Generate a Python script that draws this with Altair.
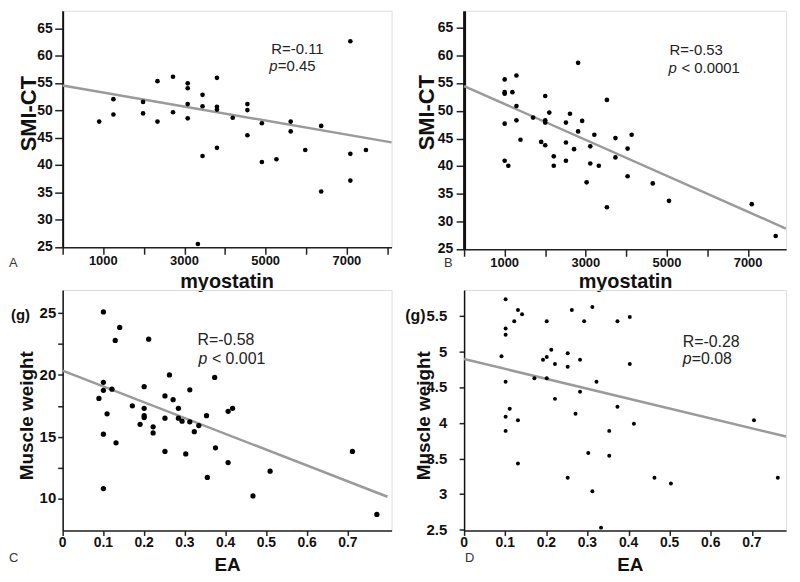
import altair as alt
import pandas as pd

FONT = "Liberation Sans"

# ---------------- data ----------------
A_x = [900, 1250, 1250, 1980, 1980, 2335, 2335, 2718, 2718, 3080, 3080, 3080, 3080,
       3445, 3445, 3445, 3330, 3800, 3800, 3800, 3800, 4188, 4550, 4550, 4550, 4906,
       4906, 5265, 5616, 5616, 5975, 6367, 6367, 7085, 7085, 7085, 7469]
A_y = [48.0, 52.1, 49.3, 51.6, 49.5, 55.4, 48.0, 56.2, 49.7, 55.0, 54.1, 51.2, 48.6,
       52.9, 50.8, 41.7, 25.6, 56.0, 50.7, 50.2, 43.2, 48.7, 51.2, 50.1, 45.5, 47.7,
       40.6, 41.1, 48.0, 46.2, 42.8, 47.2, 35.2, 62.7, 42.1, 37.2, 42.8]
A_line_x = [0, 8100]
A_line_y = [54.6, 44.2]

B_x = [1000, 1000, 1000, 1000, 1000, 1090, 1190, 1290, 1290, 1290, 1390, 1700, 1900,
       2000, 2000, 2000, 2000, 2100, 2210, 2210, 2510, 2510, 2510, 2610, 2710, 2810,
       2810, 2910, 3020, 3110, 3110, 3210, 3320, 3520, 3520, 3730, 3730, 4030, 4030,
       4130, 4650, 5050, 7090, 7680]
B_y = [55.7, 53.4, 53.1, 47.7, 41.0, 40.1, 53.4, 56.4, 50.9, 48.3, 44.8, 48.8, 44.4,
       43.8, 52.7, 48.3, 47.9, 49.7, 41.8, 40.1, 47.9, 44.3, 41.0, 49.5, 43.1, 58.7,
       46.3, 48.2, 37.1, 43.6, 40.5, 45.7, 40.1, 52.0, 32.6, 45.1, 41.6, 43.2, 38.2,
       45.7, 36.9, 33.75, 33.15, 27.4]
B_line_x = [0, 7930]
B_line_y = [54.5, 28.75]

C_x = [0.100, 0.140, 0.129, 0.211, 0.262, 0.100, 0.100, 0.121, 0.089, 0.200, 0.251,
       0.271, 0.312, 0.373, 0.109, 0.171, 0.200, 0.200, 0.200, 0.190, 0.222, 0.222,
       0.251, 0.284, 0.284, 0.293, 0.312, 0.323, 0.334, 0.353, 0.100, 0.131, 0.251,
       0.302, 0.375, 0.355, 0.100, 0.406, 0.417, 0.406, 0.467, 0.509, 0.711, 0.771]
C_y = [25.1, 23.85, 22.8, 22.9, 20.0, 19.4, 18.75, 18.85, 18.1, 19.05, 18.3, 18.0,
       18.8, 19.8, 16.85, 17.5, 17.3, 16.7, 16.55, 16.0, 15.8, 15.3, 16.5, 17.3, 16.5,
       16.25, 16.2, 15.4, 15.9, 16.7, 15.2, 14.5, 13.8, 13.6, 14.1, 11.7, 10.8, 17.05,
       17.3, 12.9, 10.2, 12.2, 13.8, 8.7]
C_line_x = [0, 0.797]
C_line_y = [20.35, 10.13]

D_x = [0.101, 0.131, 0.141, 0.122, 0.101, 0.101, 0.091, 0.101, 0.111, 0.101, 0.131,
       0.101, 0.131, 0.201, 0.212, 0.201, 0.192, 0.221, 0.171, 0.201, 0.221, 0.262,
       0.312, 0.292, 0.252, 0.252, 0.282, 0.322, 0.282, 0.271, 0.252, 0.302, 0.312,
       0.333, 0.353, 0.353, 0.373, 0.373, 0.403, 0.403, 0.413, 0.463, 0.503, 0.705, 0.763]
D_y = [5.74, 5.59, 5.53, 5.43, 5.33, 5.24, 4.94, 4.58, 4.20, 4.09, 4.04, 3.89, 3.43,
       5.43, 5.03, 4.93, 4.89, 4.83, 4.63, 4.63, 4.34, 5.59, 5.63, 5.43, 4.98, 4.79,
       4.89, 4.58, 4.44, 4.13, 3.23, 3.58, 3.04, 2.53, 3.89, 3.54, 5.43, 4.23, 5.49,
       4.83, 3.99, 3.23, 3.15, 4.04, 3.23]
D_line_x = [0, 0.783]
D_line_y = [4.9, 3.81]

# ticks and tick labels
MYO_TICKS = [0, 1000, 2000, 3000, 4000, 5000, 6000, 7000, 8000]
MYO_TICKS_B = [0, 1000, 2000, 3000, 4000, 5000, 6000, 7000]
MYO_LAB_VALS = [1000, 3000, 5000, 7000]
MYO_LABS = ["1000", "3000", "5000", "7000"]
SMI_TICKS = [25, 30, 35, 40, 45, 50, 55, 60, 65]
SMI_LABS = ["25", "30", "35", "40", "45", "50", "55", "60", "65"]
EA_TICKS = [0, 0.1, 0.2, 0.3, 0.4, 0.5, 0.6, 0.7]
EA_LABS = ["0", "0.1", "0.2", "0.3", "0.4", "0.5", "0.6", "0.7"]
MW_C_TICKS = [10, 12.5, 15, 17.5, 20, 22.5, 25]
MW_C_LAB_VALS = [10, 15, 20, 25]
MW_C_LABS = ["10", "15", "20", "25"]
MW_D_TICKS = [2.5, 3, 3.5, 4, 4.5, 5, 5.5]
MW_D_LABS = ["2.5", "3", "3.5", "4", "4.5", "5", "5.5"]

LETTERS = ["A", "B", "C", "D"]
R_TEXTS = ["R=-0.11", "R=-0.53", "R=-0.58", "R=-0.28"]
P_TEXTS = ["=0.45", "< 0.0001", "< 0.001", "=0.08"]
X_TITLES = ["myostatin", "myostatin", "EA", "EA"]
Y_TITLES = ["SMI-CT", "SMI-CT", "Muscle weight", "Muscle weight"]
UNIT = "(g)"


def txt(s, x, y, size, style="normal", weight="normal", color="#222"):
    return alt.Chart(pd.DataFrame({"t": [s]})).mark_text(
        align="left", baseline="alphabetic", font=FONT, fontSize=size,
        fontStyle=style, fontWeight=weight, color=color
    ).encode(x=alt.value(x), y=alt.value(y), text="t:N")


def panel(i, xs, ys, lx, ly, s):
    df = pd.DataFrame({"x": xs, "y": ys})
    ldf = pd.DataFrame({"x": lx, "y": ly})
    xscale = alt.Scale(domain=s["xdom"], nice=False, zero=False)
    yscale = alt.Scale(domain=s["ydom"], nice=False, zero=False)
    xaxis = alt.Axis(
        values=s["xvals"], title=X_TITLES[i], grid=False, labels=False,
        titleFont=FONT, titleFontSize=s["xtfs"], titleFontWeight="bold", titleColor="#111",
        titleX=s["xtx"], titleY=s["xty"], titleAlign="center", titleBaseline="alphabetic",
        tickSize=s["xts"], tickColor="#222", tickWidth=1.5,
        domainColor="#222", domainWidth=1.5,
    )
    yaxis = alt.Axis(
        values=s["yvals"], title=Y_TITLES[i], grid=False, labels=False,
        titleFont=FONT, titleFontSize=s["ytfs"], titleFontWeight="bold", titleColor="#111",
        titleX=s["ytx"], titleY=s["yty"], titleAlign="center", titleBaseline="alphabetic",
        titleAngle=270,
        tickSize=s["yts"], tickColor="#222", tickWidth=1.5,
        domainColor="#111", domainWidth=s["ydw"],
    )
    X = alt.X("x:Q", scale=xscale, axis=xaxis)
    Y = alt.Y("y:Q", scale=yscale, axis=yaxis)
    line = alt.Chart(ldf).mark_line(color="#9a9a9a", strokeWidth=2.5).encode(x=X, y=Y)
    pts = alt.Chart(df).mark_circle(color="#000", opacity=1, size=s["size"]).encode(x=X, y=Y)
    xl = alt.Chart(pd.DataFrame({"x": s["xlv"], "lab": s["xll"]})).mark_text(
        align="center", baseline="top", font=FONT, fontSize=s["xlfs"],
        fontWeight="bold", color="#111"
    ).encode(x=X, y=alt.value(s["h"] + s["xts"] + s["xlp"]), text="lab:N")
    yl = alt.Chart(pd.DataFrame({"y": s["ylv"], "lab": s["yll"]})).mark_text(
        align="right", baseline="middle", font=FONT, fontSize=s["ylfs"],
        fontWeight="bold", color="#111"
    ).encode(y=Y, x=alt.value(-(s["yts"] + s["ylp"])), text="lab:N")
    layers = [line, pts, xl, yl,
              txt(R_TEXTS[i], s["rx"], s["ry"], s["afs"]),
              txt("p", s["px"], s["py"], s["afs"], style="italic"),
              txt(P_TEXTS[i], s["px"] + s["pdx"], s["py"], s["afs"]),
              txt(LETTERS[i], s["lx"], s["ly"], 13, color="#333")]
    if s.get("gx") is not None:
        layers.append(txt(UNIT, s["gx"], s["gy"], s["gfs"], weight="bold", color="#111"))
    return alt.layer(*layers).properties(width=s["w"], height=s["h"])


SA = dict(xdom=[0, 8100], ydom=[25, 68.27], w=331, h=238, xvals=MYO_TICKS, yvals=SMI_TICKS,
          xlv=MYO_LAB_VALS, xll=MYO_LABS, ylv=SMI_TICKS, yll=SMI_LABS,
          xtfs=20, xtx=165, xty=40, xlfs=13, xlp=1, xts=7,
          ytfs=22, ytx=-27.5, yty=103, ylfs=14, ylp=2, yts=8, ydw=2,
          size=22, rx=210, ry=43.7, px=208, py=61, pdx=8.5, afs=15, lx=-54, ly=257.5)
SB = dict(xdom=[0, 7935], ydom=[25, 68.1], w=324, h=240, xvals=MYO_TICKS_B, yvals=SMI_TICKS,
          xlv=MYO_LAB_VALS, xll=MYO_LABS, ylv=SMI_TICKS, yll=SMI_LABS,
          xtfs=20, xtx=162, xty=38, xlfs=13, xlp=1, xts=7,
          ytfs=22, ytx=-30.5, yty=102, ylfs=14, ylp=3, yts=8, ydw=3,
          size=22, rx=206.7, ry=44.3, px=205.7, py=62.7, pdx=13, afs=15, lx=-20.3, ly=258)
SC = dict(xdom=[0, 0.807], ydom=[7.4, 26.88], w=331, h=242, xvals=EA_TICKS, yvals=MW_C_TICKS,
          xlv=EA_TICKS, xll=EA_LABS, ylv=MW_C_LAB_VALS, yll=MW_C_LABS,
          xtfs=19, xtx=165.5, xty=40, xlfs=14, xlp=1, xts=5,
          ytfs=19, ytx=-30, yty=126, ylfs=15, ylp=1.5, yts=5, ydw=1.5,
          size=28, rx=135.7, ry=55.3, px=136.7, py=74.3, pdx=13.5, afs=16, lx=-54, ly=274,
          gx=-52, gy=30, gfs=15)
SD = dict(xdom=[0, 0.783], ydom=[2.49, 5.87], w=324, h=242, xvals=EA_TICKS, yvals=MW_D_TICKS,
          xlv=EA_TICKS, xll=EA_LABS, ylv=MW_D_TICKS, yll=MW_D_LABS,
          xtfs=19, xtx=166.7, xty=40, xlfs=14, xlp=1, xts=5,
          ytfs=19, ytx=-34.7, yty=126, ylfs=15, ylp=12, yts=5, ydw=1.5,
          size=16, rx=220, ry=57.3, px=220, py=74.3, pdx=9, afs=16, lx=1, ly=274,
          gx=-59.3, gy=31.6, gfs=16)

pA = panel(0, A_x, A_y, A_line_x, A_line_y, SA)
pB = panel(1, B_x, B_y, B_line_x, B_line_y, SB)
pC = panel(2, C_x, C_y, C_line_x, C_line_y, SC)
pD = panel(3, D_x, D_y, D_line_x, D_line_y, SD)

chart = alt.concat(pA, pB, pC, pD, columns=2, spacing={"row": 41, "column": 73},
                   bounds="flush").properties(
    padding={"left": 0, "top": 0, "right": 0, "bottom": 0}
).configure_view(stroke=None).configure(background="white")

chart.save("out.html", embed_options={"renderer": "svg", "actions": False})
